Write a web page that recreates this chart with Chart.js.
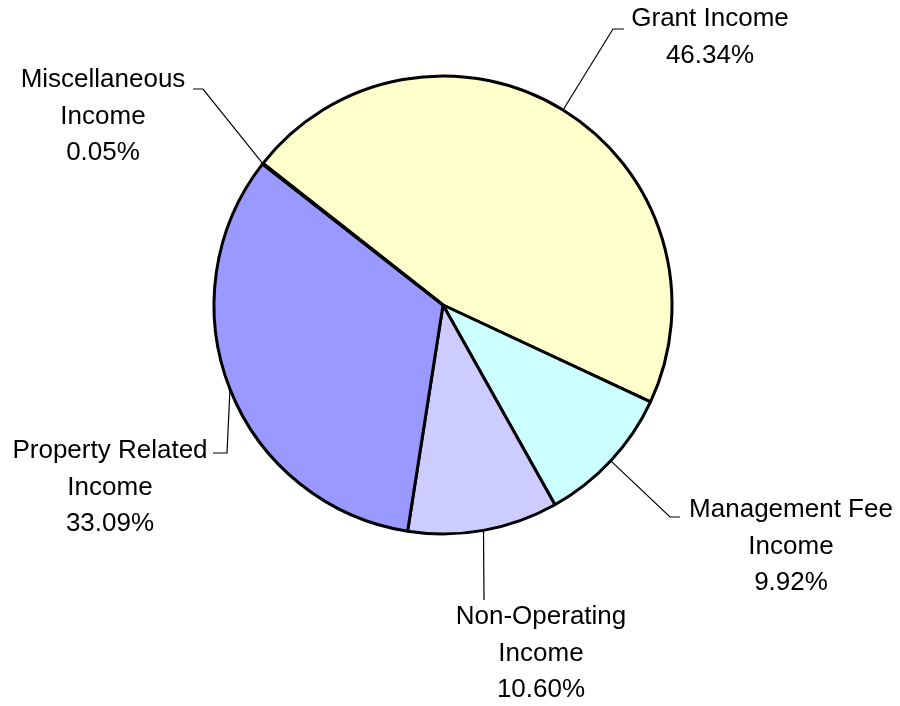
<!DOCTYPE html>
<html>
<head>
<meta charset="utf-8">
<title>Income Breakdown</title>
<script src="https://cdn.jsdelivr.net/npm/chart.js@4.4.1/dist/chart.umd.min.js"></script>
<style>
  html, body { margin: 0; padding: 0; background: #fff; }
  #wrap { width: 900px; height: 706px; position: relative; }
</style>
</head>
<body>
<div id="wrap"><canvas id="incomeChart"></canvas></div>
<script>
// income sources, clockwise from the upper-left
const categories = [
  ['Grant Income'],
  ['Management Fee', 'Income'],
  ['Non-Operating', 'Income'],
  ['Property Related', 'Income'],
  ['Miscellaneous', 'Income']
];
const shares = [46.34, 9.92, 10.60, 33.09, 0.05];
const sliceColors = ['#FFFFCC', '#CCFFFF', '#CCCCFF', '#9999FF', '#993366'];

// where each callout sits: elbow points of the leader line, then text center / first line
const callouts = [
  { path: [[613, 29], [624, 29]], x: 710, y: 19 },
  { path: [[670, 517], [680, 517]], x: 791, y: 510 },
  { path: [[484, 600]], x: 541, y: 617 },
  { path: [[227, 453], [213, 453]], x: 110, y: 451 },
  { path: [[203, 89], [193, 89]], x: 103, y: 80 }
];

const LINE_H = 36.5;

const calloutPlugin = {
  id: 'callouts',
  afterDatasetsDraw(chart) {
    const ctx = chart.ctx;
    const arcs = chart.getDatasetMeta(0).data;
    ctx.save();
    arcs.forEach((arc, i) => {
      const c = callouts[i];
      const mid = (arc.startAngle + arc.endAngle) / 2;
      const sx = arc.x + Math.cos(mid) * arc.outerRadius;
      const sy = arc.y + Math.sin(mid) * arc.outerRadius;

      ctx.beginPath();
      ctx.moveTo(sx, sy);
      c.path.forEach(p => ctx.lineTo(p[0], p[1]));
      ctx.strokeStyle = '#000';
      ctx.lineWidth = 1.2;
      ctx.stroke();

      const lines = categories[i].concat([shares[i].toFixed(2) + '%']);
      ctx.fillStyle = '#000';
      ctx.font = '26px "Liberation Sans", Arial, sans-serif';
      ctx.textAlign = 'center';
      ctx.textBaseline = 'middle';
      lines.forEach((t, k) => ctx.fillText(t, c.x, c.y + k * LINE_H));
    });
    ctx.restore();
  }
};

new Chart(document.getElementById('incomeChart'), {
  type: 'pie',
  data: {
    labels: categories.map(l => l.join(' ')),
    datasets: [{
      data: shares,
      backgroundColor: sliceColors,
      borderColor: '#000',
      borderWidth: 3
    }]
  },
  options: {
    responsive: true,
    maintainAspectRatio: false,
    animation: false,
    rotation: -51.8,
    radius: 229,
    layout: { padding: { left: 100, right: 114, top: 20, bottom: 116 } },
    plugins: {
      legend: { display: false },
      tooltip: { enabled: false }
    }
  },
  plugins: [calloutPlugin]
});
</script>
</body>
</html>
